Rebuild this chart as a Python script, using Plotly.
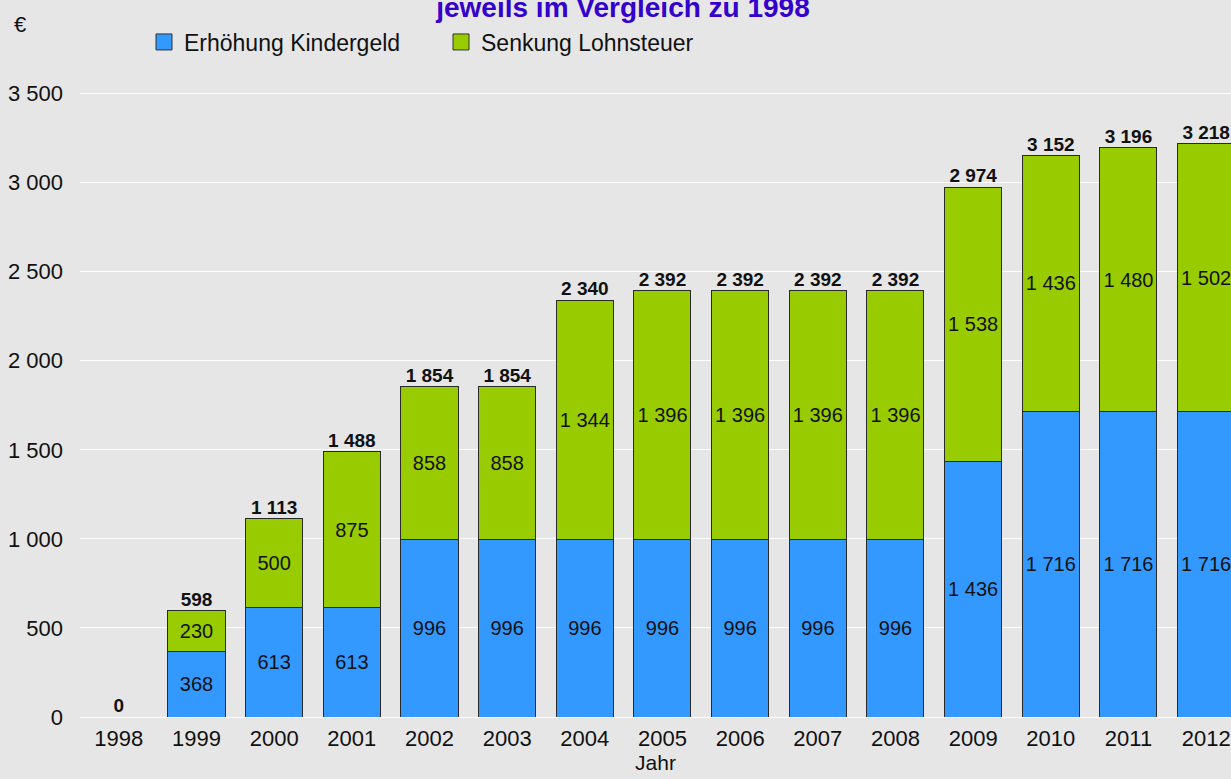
import plotly.graph_objects as go

years = ["1998", "1999", "2000", "2001", "2002", "2003", "2004", "2005",
         "2006", "2007", "2008", "2009", "2010", "2011", "2012"]
kindergeld = [0, 368, 613, 613, 996, 996, 996, 996, 996, 996, 996, 1436, 1716, 1716, 1716]
lohnsteuer = [0, 230, 500, 875, 858, 858, 1344, 1396, 1396, 1396, 1396, 1538, 1436, 1480, 1502]
totals = [k + l for k, l in zip(kindergeld, lohnsteuer)]
series_names = ["Erhöhung Kindergeld", "Senkung Lohnsteuer"]
series_colors = ["#3399ff", "#99cc00"]


def fmt(v):
    return f"{v:,}".replace(",", " ")


W, H = 1231, 779
ML, MR, MT, MB = 80, 0, 80, 62
FONT = "Liberation Sans, Arial, sans-serif"

fig = go.Figure()
for vals, name, col in zip([kindergeld, lohnsteuer], series_names, series_colors):
    fig.add_trace(go.Bar(
        x=years, y=vals, name=name, showlegend=False,
        marker=dict(color=col, line=dict(color="#2a2a2a", width=1)),
        text=[fmt(v) if v else "" for v in vals],
        textposition="inside", insidetextanchor="middle", constraintext="none",
        textangle=0, textfont=dict(size=20, color="#111111", family=FONT),
        hoverinfo="skip",
    ))

fig.add_trace(go.Scatter(
    x=years, y=totals, mode="text", text=[fmt(v) for v in totals],
    textposition="top center", showlegend=False, cliponaxis=False,
    textfont=dict(size=19, color="#111111", family=FONT, weight="bold"),
    hoverinfo="skip",
))

# legend entries (square swatches like the reference)
for name, col in zip(series_names, series_colors):
    fig.add_trace(go.Scatter(
        x=[None], y=[None], mode="markers", name=name,
        marker=dict(symbol="square", size=16, color=col,
                    line=dict(color="#333333", width=1)),
        hoverinfo="skip",
    ))

ymax = 3576
plot_w = W - ML - MR
plot_h = H - MT - MB

fig.update_layout(
    width=W, height=H,
    margin=dict(l=ML, r=MR, t=MT, b=MB),
    barmode="stack", bargap=0.266,
    paper_bgcolor="#e6e6e6", plot_bgcolor="#e6e6e6",
    separators=", ",
    font=dict(family=FONT, size=22, color="#111111"),
    title=dict(
        text="<b>jeweils im Vergleich zu 1998</b>",
        font=dict(size=28, color="#3300cc", family=FONT),
        x=623 / W, xanchor="center", xref="container",
        y=1 - 7 / H, yanchor="middle", yref="container",
    ),
    legend=dict(
        orientation="h", xref="container", yref="container",
        x=144 / W, xanchor="left", y=1 - 42 / H, yanchor="middle",
        font=dict(size=23, family=FONT), bgcolor="rgba(0,0,0,0)",
        entrywidth=252, entrywidthmode="pixels", traceorder="normal",
        itemsizing="trace",
    ),
    xaxis=dict(
        type="category", range=[-0.5, 14.32], showgrid=False, showline=False,
        ticks="", tickfont=dict(size=22), ticklabelstandoff=6,
        title=dict(text="Jahr", font=dict(size=21), standoff=5),
    ),
    yaxis=dict(
        range=[0, ymax], dtick=500, tickformat=",d", showgrid=True,
        gridcolor="#ffffff", gridwidth=1, zeroline=True, zerolinecolor="#ffffff",
        zerolinewidth=1, showline=False, ticks="", tickfont=dict(size=22),
        ticklabelstandoff=16,
    ),
    annotations=[dict(
        text="€", xref="paper", yref="paper",
        x=(20 - ML) / plot_w, y=(H - MB - 25) / plot_h,
        xanchor="center", yanchor="middle", showarrow=False,
        font=dict(size=22, family=FONT),
    )],
)

fig.write_html("out.html", config={"displayModeBar": False},
               post_script="document.body.style.margin='0';")
